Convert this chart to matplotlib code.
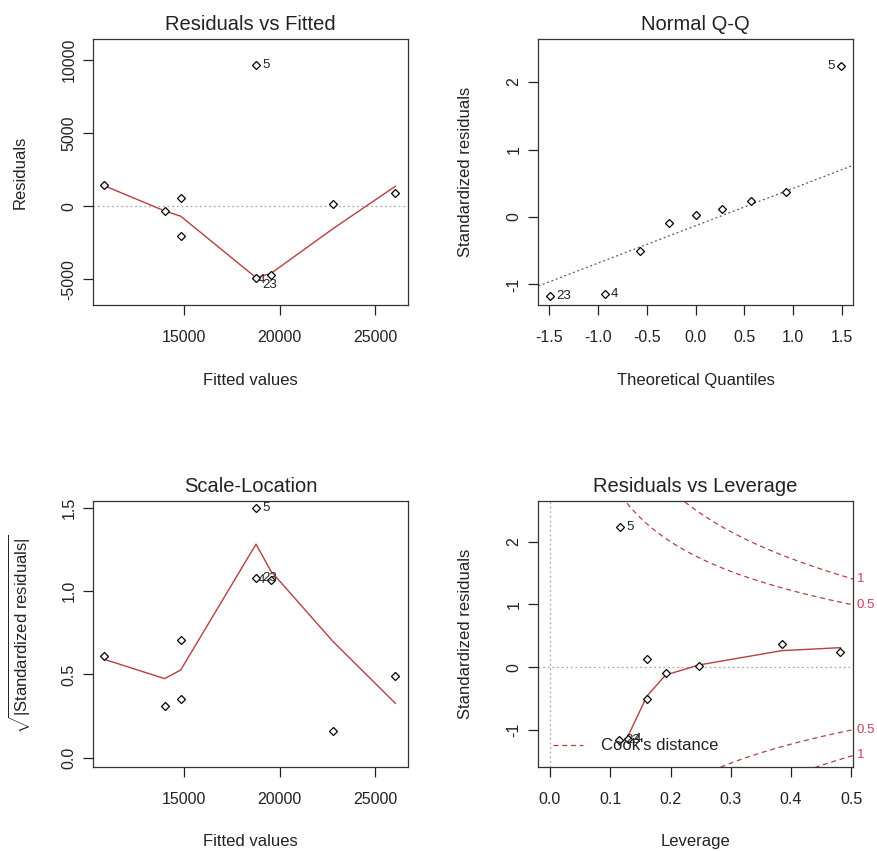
import numpy as np
import matplotlib.pyplot as plt
from matplotlib.lines import Line2D

plt.rcParams['font.family'] = ['Liberation Sans', 'DejaVu Sans']
plt.rcParams['mathtext.fontset'] = 'custom'
plt.rcParams['mathtext.rm'] = 'Liberation Sans'
plt.rcParams['mathtext.it'] = 'Liberation Sans:italic'
plt.rcParams['axes.unicode_minus'] = False

# one entry per observation of the lm fit
obs_label = ['', '', '', '', '5', '23', '4', '', '']
fitted = [10827, 13988, 14827, 14827, 18770, 18770, 19555, 22785, 26063]
residuals = [1432, -293, 593, -2020, 9645, -4911, -4680, 184, 887]
std_resid = [0.371, -0.095, 0.124, -0.504, 2.242, -1.166, -1.137, 0.025, 0.243]
leverage = [0.385, 0.192, 0.161, 0.161, 0.116, 0.115, 0.129, 0.2475, 0.482]
theo_quant = [0.93, -0.27, 0.27, -0.57, 1.49, -1.49, -0.93, 0.0, 0.57]

# lowess smooths evaluated at each observation
smooth_resid = [1400, -320, -682, -682, -4880, -4880, -4590, -1550, 1364]
smooth_scale = [0.591, 0.475, 0.527, 0.527, 1.283, 1.283, 1.12, 0.70, 0.327]
smooth_lev = [0.265, -0.123, -0.457, -0.457, -1.22, -1.24, -1.105, 0.037, 0.312]

qq_intercept, qq_slope = -0.13, 0.554
n_coef = 2
cook_levels = [0.5, 1]

INK = '#222222'
RED = '#b5403f'
LABRED = '#c8405a'

W, H = 877, 851
fig = plt.figure(figsize=(W / 100, H / 100), dpi=100)


def add_panel(left, top, w=315.6, h=266):
    return fig.add_axes([left / W, 1 - (top + h) / H, w / W, h / H])


def style(ax, title, xlabel, ylabel, xlim, ylim, xticks, yticks, xtl, ytl):
    ax.set_xlim(xlim)
    ax.set_ylim(ylim)
    ax.set_xticks(xticks)
    ax.set_xticklabels(xtl)
    ax.set_yticks(yticks)
    ax.set_yticklabels(ytl)
    ax.tick_params(direction='out', length=7, width=0.9, color=INK,
                   labelsize=11.5, labelcolor=INK)
    ax.tick_params(axis='x', pad=11)
    ax.tick_params(axis='y', pad=4.5)
    for lab in ax.get_yticklabels():
        lab.set_rotation(90)
        lab.set_va('center')
    for s in ax.spines.values():
        s.set_linewidth(0.9)
        s.set_color('#333333')
    ax.set_title(title, fontsize=14.5, pad=6.5, color=INK)
    ax.set_xlabel(xlabel, fontsize=12, color=INK)
    ax.xaxis.set_label_coords(0.5, -75 / 266)
    ax.xaxis.label.set_va('center')
    ax.set_ylabel(ylabel, fontsize=12, color=INK)
    ax.yaxis.set_label_coords(-72.7 / 315.6, 0.5)
    ax.yaxis.label.set_va('center')


def points(ax, x, y):
    ax.plot(x, y, ls='none', marker='D', ms=4.2, mfc='white', mec='black', mew=0.9, zorder=4)


def id_labels(ax, x, y, sides, drop=None):
    drop = drop or {}
    for xi, yi, lab in zip(x, y, obs_label):
        if not lab:
            continue
        dx = 4.5 if sides[lab] == 'r' else -4.5
        ax.annotate(lab, (xi, yi), xytext=(dx, -drop.get(lab, 0)), textcoords='offset points',
                    ha='left' if dx > 0 else 'right', va='center',
                    fontsize=9.5, color=INK, zorder=5, annotation_clip=False)


def smooth(ax, x, y):
    order = np.argsort(x, kind='stable')
    ax.plot(np.asarray(x)[order], np.asarray(y)[order], color=RED, lw=1.0, zorder=3)


dotted = dict(ls=(0, (1.5, 2.2)), lw=0.9)

# Residuals vs Fitted
ax1 = add_panel(92.7, 39.3)
ax1.axhline(0, color='#aaaaaa', **dotted, zorder=1)
smooth(ax1, fitted, smooth_resid)
points(ax1, fitted, residuals)
id_labels(ax1, fitted, residuals, {'5': 'r', '23': 'r', '4': 'l'}, drop={'23': 5, '4': 4})
style(ax1, 'Residuals vs Fitted', 'Fitted values', 'Residuals',
      (10220, 26743), (-6773, 11412),
      [15000, 20000, 25000], [-5000, 0, 5000, 10000],
      ['15000', '20000', '25000'], ['-5000', '0', '5000', '10000'])

# Normal Q-Q
ax2 = add_panel(537.7, 39.3)
qx = np.array([-1.7, 1.7])
ax2.plot(qx, qq_intercept + qq_slope * qx, color='#555555', **dotted, zorder=1)
points(ax2, theo_quant, std_resid)
id_labels(ax2, theo_quant, std_resid, {'5': 'l', '23': 'r', '4': 'r'})
qticks = [-1.5, -1.0, -0.5, 0.0, 0.5, 1.0, 1.5]
style(ax2, 'Normal Q-Q', 'Theoretical Quantiles', 'Standardized residuals',
      (-1.619, 1.617), (-1.31, 2.634),
      qticks, [-1, 0, 1, 2],
      ['%.1f' % t for t in qticks], ['-1', '0', '1', '2'])

# Scale-Location
ax3 = add_panel(92.7, 500.7)
root_abs = np.sqrt(np.abs(std_resid))
smooth(ax3, fitted, smooth_scale)
points(ax3, fitted, root_abs)
id_labels(ax3, fitted, root_abs, {'5': 'r', '23': 'r', '4': 'l'})
style(ax3, 'Scale-Location', 'Fitted values',
      r'$\sqrt{|\mathrm{Standardized\ residuals}|}$',
      (10220, 26743), (-0.054, 1.544),
      [15000, 20000, 25000], [0.0, 0.5, 1.0, 1.5],
      ['15000', '20000', '25000'], ['0.0', '0.5', '1.0', '1.5'])

# Residuals vs Leverage
ax4 = add_panel(537.7, 500.7)
xlim4 = (-0.0204, 0.5033)
ax4.axhline(0, color='#aaaaaa', **dotted, zorder=1)
ax4.axvline(0, color='#aaaaaa', **dotted, zorder=1)
hh = np.linspace(min(leverage) / 100, xlim4[1], 101)
for lev in cook_levels:
    cl = np.sqrt(lev * n_coef * (1 - hh) / hh)
    ax4.plot(hh, cl, color=RED, lw=0.9, dashes=(4, 3), zorder=2)
    ax4.plot(hh, -cl, color=RED, lw=0.9, dashes=(4, 3), zorder=2)
    yr = np.sqrt(lev * n_coef * (1 - xlim4[1]) / xlim4[1])
    for yy in (yr, -yr):
        ax4.annotate('%g' % lev, (1, yy), xycoords=('axes fraction', 'data'),
                     xytext=(2.5, 0), textcoords='offset points', ha='left', va='center',
                     fontsize=9.5, color=LABRED, annotation_clip=False)
smooth(ax4, leverage, smooth_lev)
points(ax4, leverage, std_resid)
id_labels(ax4, leverage, std_resid, {'5': 'r', '23': 'r', '4': 'r'})
levticks = [0.0, 0.1, 0.2, 0.3, 0.4, 0.5]
style(ax4, 'Residuals vs Leverage', 'Leverage', 'Standardized residuals',
      xlim4, (-1.584, 2.653),
      levticks, [-1, 0, 1, 2],
      ['%.1f' % t for t in levticks], ['-1', '0', '1', '2'])
ax4.legend(handles=[Line2D([], [], color=RED, lw=0.9, dashes=(4, 3))],
           labels=["Cook's distance"], loc='center left', frameon=False,
           bbox_to_anchor=(0.0485, 0.078), borderpad=0, borderaxespad=0,
           handlelength=1.8, handletextpad=1.1, fontsize=12,
           labelcolor=INK)

fig.savefig('out.png', dpi=100)
